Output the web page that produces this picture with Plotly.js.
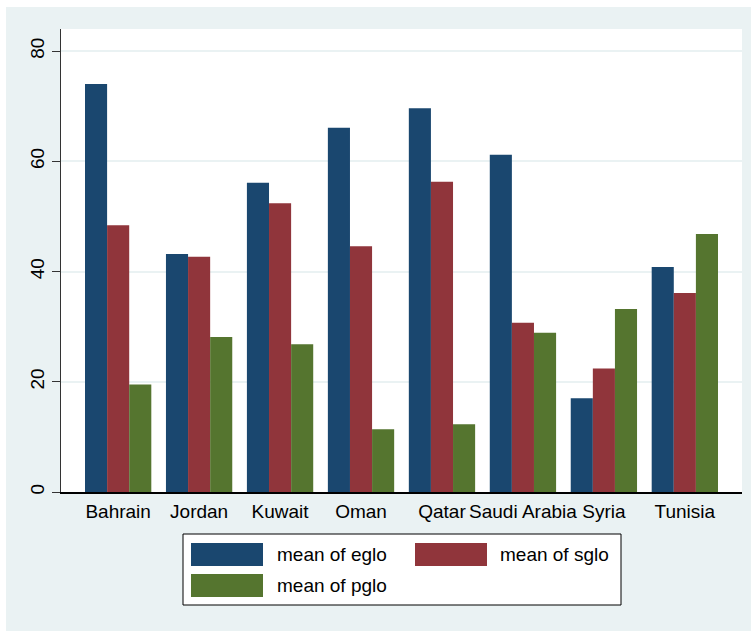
<!DOCTYPE html>
<html>
<head>
<meta charset="utf-8">
<script src="https://cdn.plot.ly/plotly-3.0.1.min.js"></script>
<style>
  html, body { margin: 0; padding: 0; background: #ffffff; }
  #chart { position: absolute; left: 6px; top: 7px; width: 745px; height: 624px; }
</style>
</head>
<body>
<div id="chart"></div>
<script>
// ---- data ----
var countries = ["Bahrain", "Jordan", "Kuwait", "Oman", "Qatar", "Saudi Arabia", "Syria", "Tunisia"];
var seriesNames = ["mean of eglo", "mean of sglo", "mean of pglo"];
var eglo = [74.0, 43.2, 56.1, 66.1, 69.6, 61.2, 17.0, 40.8];
var sglo = [48.4, 42.7, 52.4, 44.6, 56.3, 30.7, 22.4, 36.1];
var pglo = [19.5, 28.1, 26.8, 11.4, 12.3, 28.9, 33.2, 46.8];
var yTicks = [0, 20, 40, 60, 80];

// ---- styling ----
var colors = ["#1a476f", "#90353b", "#55752f"];
var bg = "#eaf2f3";
var font = "Liberation Sans, Arial, sans-serif";

var values = [eglo, sglo, pglo];
var traces = values.map(function (v, i) {
  return {
    type: "bar", x: countries, y: v, name: seriesNames[i],
    marker: { color: colors[i], line: { width: 0 } },
    showlegend: false, hoverinfo: "skip"
  };
});

// plot area in page pixels (for legend placement)
var PX0 = 61, PX1 = 742, PY0 = 29, PY1 = 492;
function px(x) { return (x - PX0) / (PX1 - PX0); }
function py(y) { return (PY1 - y) / (PY1 - PY0); }

var shapes = [
  { type: "rect", xref: "paper", yref: "paper", x0: px(183), x1: px(621), y0: py(534), y1: py(605),
    fillcolor: "#ffffff", line: { color: "#000000", width: 1 }, layer: "above" }
];
var annotations = [];
var swatches = [
  { x0: 191, x1: 263, y0: 543, y1: 566, tx: 275 },
  { x0: 415, x1: 487, y0: 543, y1: 566, tx: 498 },
  { x0: 191, x1: 263, y0: 574, y1: 597, tx: 275 }
];
swatches.forEach(function (s, i) {
  shapes.push({ type: "rect", xref: "paper", yref: "paper", x0: px(s.x0), x1: px(s.x1), y0: py(s.y0), y1: py(s.y1),
    fillcolor: colors[i], line: { width: 0 }, layer: "above" });
  annotations.push({ xref: "paper", yref: "paper", x: px(s.tx), y: py((s.y0 + s.y1) / 2),
    xanchor: "left", yanchor: "middle", showarrow: false, text: seriesNames[i],
    font: { family: font, size: 19, color: "#000000" } });
});

var layout = {
  width: 745, height: 624,
  margin: { l: 55, r: 9, t: 22, b: 139, pad: 0 },
  paper_bgcolor: bg, plot_bgcolor: "#ffffff",
  barmode: "group", bargap: 0.181, bargroupgap: 0,
  font: { family: font, size: 19, color: "#000000" },
  xaxis: {
    type: "category", range: [-0.706, 7.706],
    showgrid: false, zeroline: false,
    showline: true, linecolor: "#000000", linewidth: 1.5,
    ticks: "outside", ticklen: 2, tickcolor: "rgba(0,0,0,0)",
    tickfont: { family: font, size: 19, color: "#000000" }
  },
  yaxis: {
    range: [0, 84], tickvals: yTicks, ticktext: yTicks.map(String),
    tickangle: -90,
    showgrid: true, gridcolor: bg, gridwidth: 2,
    zeroline: false,
    showline: true, linecolor: "#333333", linewidth: 1,
    ticks: "outside", ticklen: 8, tickcolor: "#333333", tickwidth: 1,
    tickfont: { family: font, size: 19, color: "#000000" }
  },
  shapes: shapes,
  annotations: annotations
};

Plotly.newPlot("chart", traces, layout, { displayModeBar: false, staticPlot: true });
</script>
</body>
</html>
